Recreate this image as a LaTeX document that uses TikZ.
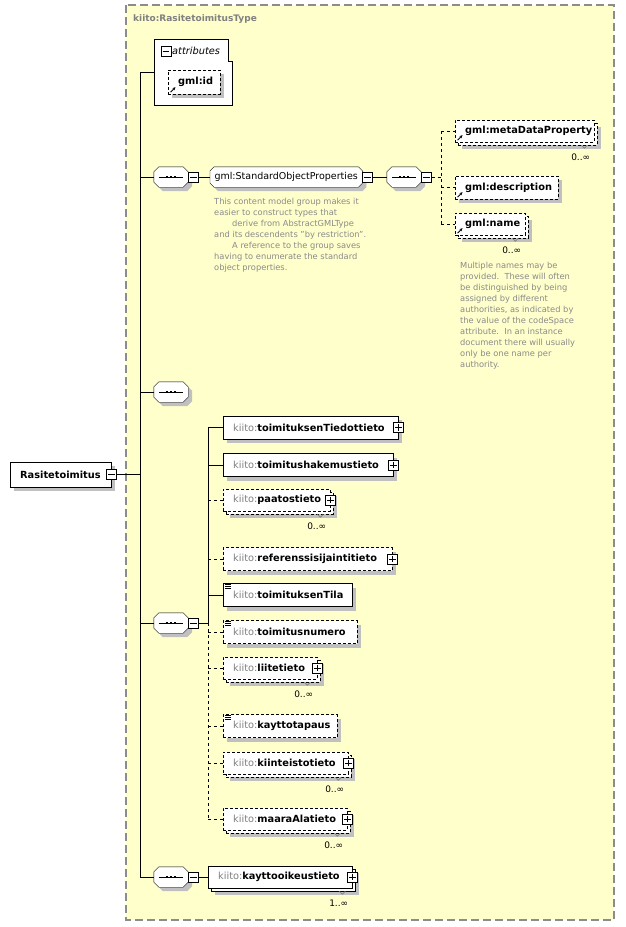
\documentclass[tikz,border=0pt]{standalone}
\usepackage{fontspec}
\setmainfont{DejaVu Sans}
\usetikzlibrary{arrows.meta,shadows,positioning}

\definecolor{typefill}{HTML}{FFFFCC}
\definecolor{typeedge}{HTML}{8C8C8C}
\definecolor{pfxgray}{HTML}{808080}
\definecolor{notegray}{HTML}{8A8A8A}
\definecolor{shgray}{HTML}{C0C0C0}

\pgfdeclarelayer{frame}
\pgfdeclarelayer{shapes}
\pgfsetlayers{frame,shapes,main}

\newcommand{\elfont}{\fontsize{9.8}{11}\selectfont\bfseries}
\newcommand{\el}[1]{\mbox{{\mdseries\color{pfxgray}kiito:}#1}}
\newcommand{\gel}[1]{\mbox{gml:#1}}
\newcommand{\pmline}[1]{\draw[line width=0.8pt] ([xshift=2pt]#1.west) -- ([xshift=-2pt]#1.east);}
\newcommand{\minusat}[2]{\node[pmbox] (#1) at (#2) {}; \pmline{#1}}
\newcommand{\plusat}[2]{\node[pmbox] (#1) at (#2) {}; \pmline{#1}
  \draw[line width=0.8pt] ([yshift=-2pt]#1.north) -- ([yshift=2pt]#1.south);}
% octagon outline behind a node
\newcommand{\octo}[2]{\begin{pgfonlayer}{shapes}
  \draw[fill=white, shd] ([xshift=#2]#1.north west) -- ([xshift=-#2]#1.north east)
    -- ([yshift=-#2]#1.north east) -- ([yshift=#2]#1.south east)
    -- ([xshift=-#2]#1.south east) -- ([xshift=#2]#1.south west)
    -- ([yshift=#2]#1.south west) -- ([yshift=-#2]#1.north west) -- cycle;
  \end{pgfonlayer}}
\newcommand{\seqdots}[1]{%
  \draw ([xshift=5pt]#1.west) -- ([xshift=-5pt]#1.east);
  \foreach \d in {-4,0,4}
    \fill ([xshift=\d*1pt]#1.center) +(-1.4pt,-1.4pt) rectangle +(1.4pt,1.4pt);}
\newcommand{\refarrow}[1]{\draw[-{Stealth[length=3pt,width=3pt]}, line width=0.8pt]
  ([shift={(2.5pt,2pt)}]#1.south west) -- ++(5pt,5pt);}
\newcommand{\simpleicon}[1]{\foreach \k in {1.5,3.2,4.9}
  \draw[line width=0.7pt] ([shift={(2pt,-\k*1pt)}]#1.north west) -- ++(6pt,0pt);}
\newcommand{\manyof}[2]{%
  \draw[pfxgray, line width=0.7pt] ([shift={(-13pt,-3pt)}]#1.south east) -- ++(3pt,-3pt) -- ++(3pt,3pt);
  \node[occ] (#1-occ) at ([shift={(-4pt,-15pt)}]#1.south east) {#2};}

\tikzset{
  shd/.style={drop shadow={shadow xshift=4pt, shadow yshift=-4pt, fill=shgray, opacity=1}},
  shdm/.style={drop shadow={shadow xshift=7pt, shadow yshift=-7pt, fill=shgray, opacity=1}},
  stack/.style={general shadow={shadow xshift=3pt, shadow yshift=-3pt, draw=black, fill=white}},
  elbox/.style={draw, fill=white, anchor=west, inner xsep=10pt, inner ysep=0pt,
    text width=#1, align=left, font=\elfont},
  req/.style={elbox=#1, minimum height=23pt, shd},
  opt/.style={req=#1, dash pattern=on 3pt off 2pt},
  reqm/.style={elbox=#1, minimum height=22pt, shdm, stack},
  optm/.style={reqm=#1, dash pattern=on 3pt off 2pt},
  compositor/.style={minimum width=34pt, minimum height=20pt, inner sep=0pt},
  grp/.style={minimum width=152pt, minimum height=20pt, inner sep=0pt, anchor=west,
    font=\fontsize{9.5}{11}\selectfont},
  pmbox/.style={draw, fill=white, minimum size=10pt, inner sep=0pt, line width=0.8pt},
  occ/.style={font=\fontsize{9}{10}\selectfont, inner sep=0pt, anchor=east},
  note/.style={anchor=north west, inner sep=0pt, align=left, text=notegray,
    font=\fontsize{8.3}{11.1}\selectfont},
  optlink/.style={dash pattern=on 3pt off 3pt}
}

\begin{document}
\begin{tikzpicture}[x=1pt,y=-1pt,line width=1pt]
\useasboundingbox (0,0) rectangle (625,927);

% complex type frame
\begin{pgfonlayer}{frame}
\draw[typeedge, fill=typefill, line width=1.3pt, dash pattern=on 8pt off 4pt] (126,5) rectangle (614,920);
\end{pgfonlayer}
\node[anchor=west, inner sep=0pt, text=pfxgray, font=\fontsize{9}{10}\selectfont\bfseries]
  (tname) at (133,19) {kiito:RasitetoimitusType};

% root element
\node[req=81pt, minimum height=25pt] (root) at (10,474.5) {\mbox{Rasitetoimitus}};
\minusat{rootm}{root.east}

% attributes
\node[minimum width=78pt, minimum height=66pt, inner sep=0pt, anchor=north west] (attr) at (154,39) {};
\draw[fill=white] (attr.north west) -- ([xshift=-4pt]attr.north east)
  -- ([shift={(-4pt,-22pt)}]attr.north east) -- ([yshift=-22pt]attr.north east)
  -- (attr.south east) -- (attr.south west) -- cycle;
\minusat{attrm}{166,51}
\node[anchor=west, inner sep=0pt, font=\fontsize{9.8}{11}\selectfont\itshape] (attrlbl) at (172,50.5) {attributes};
\node[opt=32pt, minimum height=24pt] (gid) at (168,82) {\gel{id}};
\refarrow{gid}

% standard object properties
\node[compositor] (seqA) at (171,177) {};
\octo{seqA}{5pt}
\seqdots{seqA}
\minusat{seqAm}{[xshift=5pt]seqA.east}
\node[grp] (sop) at (210,177) {gml:StandardObjectProperties};
\octo{sop}{4pt}
\minusat{sopm}{[xshift=5pt]sop.east}
\node[compositor] (seqB) at (404,177) {};
\octo{seqB}{5pt}
\seqdots{seqB}
\minusat{seqBm}{[xshift=5pt]seqB.east}
\draw (seqAm.east) -- (sop.west);
\draw (sopm.east) -- (seqB.west);

\node[optm=119pt] (mdp) at (455,131) {\gel{metaDataProperty}};
\manyof{mdp}{0..∞}
\refarrow{mdp}
\node[opt=83pt] (desc) at (455,187.5) {\gel{description}};
\refarrow{desc}
\node[optm=50pt] (gname) at (455,224) {\gel{name}};
\manyof{gname}{0..∞}
\refarrow{gname}

\coordinate (busB) at (441,177);
\draw[optlink] (seqBm.east) -- (busB);
\draw[optlink] (busB |- mdp.west) -- (busB |- gname.west);
\foreach \n in {mdp,desc,gname}
  \draw[optlink] (busB |- \n.west) -- (\n.west);

\node[note] (sopnote) at (214,197.5) {This content model group makes it\\
easier to construct types that\\
\hspace*{18pt}derive from AbstractGMLType\\
and its descendents "by restriction".\\
\hspace*{18pt}A reference to the group saves\\
having to enumerate the standard\\
object properties.};
\node[note] (namenote) at (460,261.5) {Multiple names may be\\
provided.\ \ These will often\\
be distinguished by being\\
assigned by different\\
authorities, as indicated by\\
the value of the codeSpace\\
attribute.\ \ In an instance\\
document there will usually\\
only be one name per\\
authority.};

% empty sequence
\node[compositor] (seqC) at (171,392) {};
\octo{seqC}{5pt}
\seqdots{seqC}

% main sequence
\node[compositor] (seqD) at (171,623) {};
\octo{seqD}{5pt}
\seqdots{seqD}
\minusat{seqDm}{[xshift=5pt]seqD.east}

\node[req=155pt] (t1) at (223,427.5) {\el{toimituksenTiedottieto}};
\plusat{t1p}{t1.east}
\node[req=150pt] (t2) at (223,465) {\el{toimitushakemustieto}};
\plusat{t2p}{t2.east}
\node[optm=87pt] (t3) at (223,500) {\el{paatostieto}};
\plusat{t3p}{t3.east}
\manyof{t3}{0..∞}
\node[opt=149pt] (t4) at (223,559) {\el{referenssisijaintitieto}};
\plusat{t4p}{t4.east}
\node[req=109pt] (t5) at (223,595) {\el{toimituksenTila}};
\simpleicon{t5}
\node[opt=114pt] (t6) at (223,632) {\el{toimitusnumero}};
\simpleicon{t6}
\node[optm=74pt] (t7) at (223,668) {\el{liitetieto}};
\plusat{t7p}{t7.east}
\manyof{t7}{0..∞}
\node[opt=94pt] (t8) at (223,726) {\el{kayttotapaus}};
\simpleicon{t8}
\node[optm=105pt] (t9) at (223,763) {\el{kiinteistotieto}};
\plusat{t9p}{t9.east}
\manyof{t9}{0..∞}
\node[optm=104pt] (t10) at (223,819) {\el{maaraAlatieto}};
\plusat{t10p}{t10.east}
\manyof{t10}{0..∞}

\coordinate (cbus) at (208,0);
\draw (seqDm.east) -- (seqDm.east -| cbus);
\draw (t1.west -| cbus) -- (seqDm.east -| cbus);
\draw[optlink] (seqDm.east -| cbus) -- (t10.west -| cbus);
\foreach \n in {t1,t2,t5}
  \draw (\n.west -| cbus) -- (\n.west);
\foreach \n in {t3,t4,t6,t7,t8,t9,t10}
  \draw[optlink] (\n.west -| cbus) -- (\n.west);

% usage rights
\node[compositor] (seqE) at (171,877) {};
\octo{seqE}{5pt}
\seqdots{seqE}
\minusat{seqEm}{[xshift=5pt]seqE.east}
\node[reqm=124pt] (koik) at (208,877) {\el{kayttooikeustieto}};
\plusat{koikp}{koik.east}
\manyof{koik}{1..∞}
\draw (seqEm.east) -- (koik.west);

% main bus
\coordinate (mbus) at (140,0);
\draw (attr.west -| mbus) -- (seqE.west -| mbus);
\draw (rootm.east) -- (rootm.east -| mbus);
\foreach \n in {attr,seqA,seqC,seqD,seqE}
  \draw (\n.west -| mbus) -- (\n.west);
\end{tikzpicture}
\end{document}
